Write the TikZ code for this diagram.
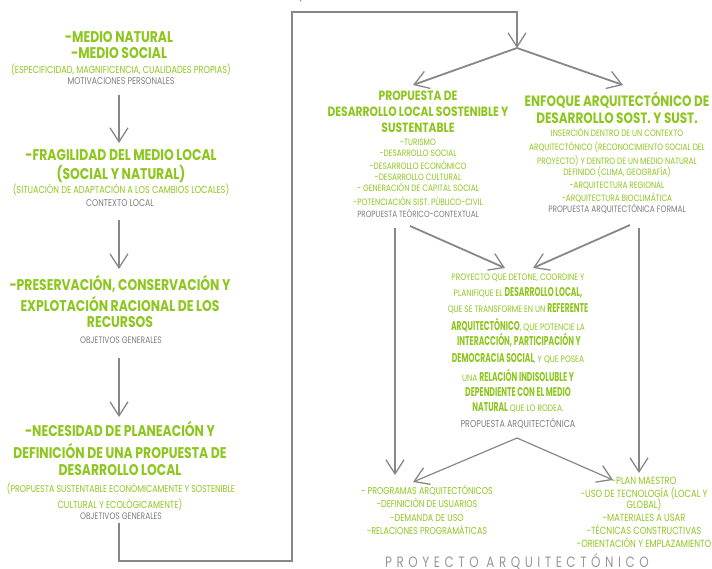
\documentclass[tikz,border=0pt]{standalone}
\usepackage{fontspec}
\setmainfont[FakeStretch=0.8]{Poppins}
\newfontfamily\condfont[FakeStretch=0.6]{Poppins}
\usetikzlibrary{arrows.meta}
\definecolor{grn}{RGB}{141,198,31}
\definecolor{gtxt}{RGB}{125,125,125}
\definecolor{gline}{RGB}{135,135,135}
\newcommand{\fsz}[1]{\fontsize{#1}{#1}\selectfont}
\begin{document}
\begin{tikzpicture}[x=1pt,y=-1pt,
  every node/.style={inner sep=0, text height=0.7em, text depth=0pt},
  hd/.style={text=grn, font=\bfseries\fsz{15.5}},
  hdm/.style={text=grn, font=\bfseries\fsz{13.4}},
  sub/.style={text=grn, font=\fsz{10.2}},
  subs/.style={text=grn, font=\fsz{9.2}},
  gr/.style={text=gtxt, font=\fsz{9.8}},
  mix/.style={text=grn, font=\condfont\bfseries\fsz{12.7}},
  conn/.style={draw=gline, line width=1.8pt},
  arr/.style={conn, -{Straight Barb[length=14pt,width=18pt,line width=1.3pt]}}]
\useasboundingbox (0,0) rectangle (712,568);
\clip (0,0) rectangle (712,568);

% top title (cut off by the page edge, as in the reference)
\node[text=gtxt, font=\fsz{11}] (title) at (216,-3) {ENTRADA DE DATOS Y GENERACIÓN DE PROYECTO ARQUITECTÓNICO};

% ---------- left column ----------
\node[hd] (a1) at (119,39) {-MEDIO NATURAL};
\node[hd] (a2) at (119,55) {-MEDIO SOCIAL};
\node[sub] (a3) at (121,70) {(ESPECIFICIDAD, MAGNIFICENCIA, CUALIDADES PROPIAS)};
\node[gr] (a4) at (121,81) {MOTIVACIONES PERSONALES};

\node[hd] (b1) at (121,157) {-FRAGILIDAD DEL MEDIO LOCAL};
\node[hd] (b2) at (121,176) {(SOCIAL Y NATURAL)};
\node[sub] (b3) at (121,190) {(SITUACIÓN DE ADAPTACIÓN A LOS CAMBIOS LOCALES)};
\node[gr] (b4) at (120,203) {CONTEXTO LOCAL};

\node[hd] (c1) at (120,287) {-PRESERVACIÓN, CONSERVACIÓN Y};
\node[hd] (c2) at (120,308) {EXPLOTACIÓN RACIONAL DE LOS};
\node[hd] (c3) at (120,324) {RECURSOS};
\node[gr, font=\fsz{9.4}] (c4) at (121,340) {OBJETIVOS GENERALES};

\node[hd] (d1) at (120,433) {-NECESIDAD DE PLANEACIÓN Y};
\node[hd] (d2) at (120,455) {DEFINICIÓN DE UNA PROPUESTA DE};
\node[hd] (d3) at (120,472) {DESARROLLO LOCAL};
\node[sub, font=\fsz{9.9}] (d4) at (121,489) {(PROPUESTA SUSTENTABLE ECONÓMICAMENTE Y SOSTENIBLE};
\node[sub] (d5) at (120,505) {CULTURAL Y ECOLÓGICAMENTE)};
\node[gr, font=\fsz{9.4}] (d6) at (121,516) {OBJETIVOS GENERALES};

\coordinate (ab1) at (119,95);  \coordinate (ab2) at (119,143);
\coordinate (bc1) at (119,220); \coordinate (bc2) at (119,269);
\coordinate (cd1) at (119,358); \coordinate (cd2) at (119,417);
\draw[arr] (ab1) -- (ab2);
\draw[arr] (bc1) -- (bc2);
\draw[arr] (cd1) -- (cd2);

\coordinate (r0) at (119,523);
\coordinate (r1) at (119,561);
\coordinate (r2) at (292,561);
\coordinate (r3) at (292,12);
\coordinate (r4) at (517,12);
\coordinate (split1) at (517,48);
\draw[arr] (r0) -- (r1) -- (r2) -- (r3) -- (r4) -- (split1);
\coordinate (t1) at (413,85);
\coordinate (t2) at (623,85);
\draw[arr] (split1) -- (t1);
\draw[arr] (split1) -- (t2);

% ---------- middle left block ----------
\node[hdm] (e1) at (418,97) {PROPUESTA DE};
\node[hdm] (e2) at (418,113) {DESARROLLO LOCAL SOSTENIBLE Y};
\node[hdm] (e3) at (418,129) {SUSTENTABLE};
\node[subs] (e4) at (418,142) {-TURISMO};
\node[subs] (e5) at (418,153) {-DESARROLLO SOCIAL};
\node[subs] (e6) at (418,166) {-DESARROLLO ECONÓMICO};
\node[subs] (e7) at (418,177) {-DESARROLLO CULTURAL};
\node[subs] (e8) at (418,188) {- GENERACIÓN DE CAPITAL SOCIAL};
\node[subs] (e9) at (418,202) {-POTENCIACIÓN SIST. PÚBLICO-CIVIL};
\node[gr, font=\fsz{9}] (e10) at (418,214) {PROPUESTA TEÓRICO-CONTEXTUAL};

% ---------- right block ----------
\node[hd, font=\bfseries\fsz{15}] (f1) at (617,103) {ENFOQUE ARQUITECTÓNICO DE};
\node[hd, font=\bfseries\fsz{15}] (f2) at (617,120) {DESARROLLO SOST. Y SUST.};
\node[subs] (f3) at (617,133) {INSERCIÓN DENTRO DE UN CONTEXTO};
\node[subs] (f4) at (617,147) {ARQUITECTÓNICO (RECONOCIMIENTO SOCIAL DEL};
\node[subs] (f5) at (617,161) {PROYECTO) Y DENTRO DE UN MEDIO NATURAL};
\node[subs] (f6) at (617,172) {DEFINIDO (CLIMA, GEOGRAFÍA)};
\node[subs] (f7) at (617,185) {-ARQUITECTURA REGIONAL};
\node[subs] (f8) at (617,198) {-ARQUITECTURA BIOCLIMÁTICA};
\node[gr, font=\fsz{9.3}] (f9) at (617,209) {PROPUESTA ARQUITECTÓNICA FORMAL};

% arrows into centre
\coordinate (e-out) at (410,226); \coordinate (g-in1) at (505,268);
\coordinate (f-out) at (630,225); \coordinate (g-in2) at (533,268);
\draw[arr] (e-out) -- (g-in1);
\draw[arr] (f-out) -- (g-in2);
\coordinate (v1a) at (395,228); \coordinate (v1b) at (395,475);
\coordinate (v2a) at (639,228); \coordinate (v2b) at (639,473);
\draw[arr] (v1a) -- (v1b);
\draw[arr] (v2a) -- (v2b);

% ---------- centre block ----------
\def\SM{\normalfont\fsz{9.3}}
\node[mix] (g1) at (518,277) {\SM PROYECTO QUE DETONE, COORDINE Y};
\node[mix] (g2) at (518,293) {{\SM PLANIFIQUE EL }DESARROLLO LOCAL,};
\node[mix] (g3) at (518,309) {{\SM QUE SE TRANSFORME EN UN }REFERENTE};
\node[mix] (g4) at (518,327) {ARQUITECTÓNICO{\SM , QUE POTENCIE LA}};
\node[mix] (g5) at (519,342) {INTERACCIÓN, PARTICIPACIÓN Y};
\node[mix] (g6) at (518,359) {DEMOCRACIA SOCIAL{\SM , Y QUE POSEA}};
\node[mix] (g7) at (518,378) {{\SM UNA }RELACIÓN INDISOLUBLE Y};
\node[mix] (g8) at (518,393) {DEPENDIENTE CON EL MEDIO};
\node[mix] (g9) at (518,408) {NATURAL{\SM\ QUE LO RODEA.}};
\node[gr, font=\fsz{10}] (g10) at (518,424) {PROPUESTA ARQUITECTÓNICA};

\coordinate (split2) at (517,438);
\coordinate (h1) at (413,482);
\coordinate (h2) at (613,480);
\draw[conn, -{Straight Barb[length=14pt,width=18pt,line width=1.3pt]}, line width=1.2pt] (split2) -- (h1);
\draw[conn, -{Straight Barb[length=14pt,width=18pt,line width=1.3pt]}, line width=1.2pt] (split2) -- (h2);

% ---------- bottom lists ----------
\node[subs, font=\fsz{10}] (i1) at (427,491) {- PROGRAMAS ARQUITECTÓNICOS};
\node[subs, font=\fsz{10}] (i2) at (427,504) {-DEFINICIÓN DE USUARIOS};
\node[subs, font=\fsz{10}] (i3) at (427,518) {-DEMANDA DE USO};
\node[subs, font=\fsz{10}] (i4) at (427,531) {-RELACIONES PROGRAMÁTICAS};

\node[subs, font=\fsz{10.4}] (j1) at (644,481) {-PLAN MAESTRO};
\node[subs, font=\fsz{10.4}] (j2) at (644,494) {-USO DE TECNOLOGÍA (LOCAL Y};
\node[subs, font=\fsz{10.4}] (j3) at (644,505) {GLOBAL)};
\node[subs, font=\fsz{10.4}] (j4) at (644,518) {-MATERIALES A USAR};
\node[subs, font=\fsz{10.4}] (j5) at (644,531) {-TÉCNICAS CONSTRUCTIVAS};
\node[subs, font=\fsz{10.4}] (j6) at (644,544) {-ORIENTACIÓN Y EMPLAZAMIENTO};

\node[text=gtxt!80, font=\fsz{15}\addfontfeature{LetterSpace=30}] (final) at (517,564) {PROYECTO ARQUITECTÓNICO};
\end{tikzpicture}
\end{document}
